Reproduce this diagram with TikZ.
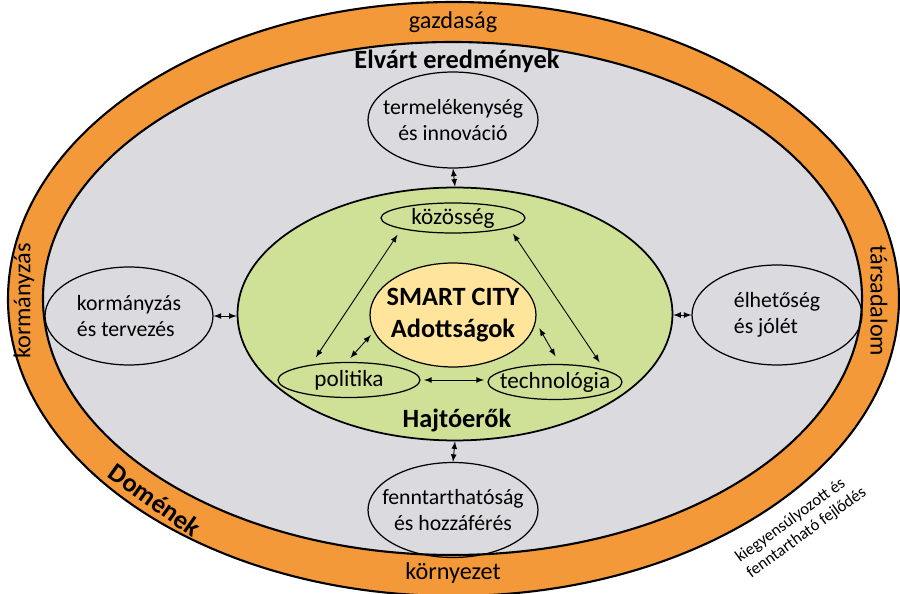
\documentclass[tikz,border=0pt]{standalone}
\usepackage{fontspec}
\setmainfont{Carlito}
\usetikzlibrary{shapes.geometric}
\definecolor{domain-orange}{RGB}{243,153,57}
\definecolor{result-gray}{RGB}{219,219,223}
\definecolor{driver-green}{RGB}{207,224,151}
\definecolor{core-yellow}{RGB}{255,228,155}
\tikzstyle{ring}=[draw=black,line width=1.2pt]
\tikzstyle{outcome}=[ellipse,draw,line width=0.7pt,inner xsep=-8pt,inner ysep=0pt,font=\fontsize{12.4}{15}\selectfont]
\tikzstyle{driver}=[ellipse,draw,line width=0.7pt,inner xsep=-5pt,inner ysep=0pt,font=\fontsize{13.2}{15}\selectfont]
\tikzstyle{domainlabel}=[font=\fontsize{13.8}{15}\selectfont]
\tikzstyle{heading}=[font=\bfseries\fontsize{15}{18}\selectfont]
\tikzstyle{link}=[latex-latex,line width=0.5pt]

\begin{document}
\begin{tikzpicture}[x=0.02cm,y=-0.02cm]
\useasboundingbox (0,0) rectangle (900,594);
% rings
\draw[ring,fill=domain-orange] (453.5,299) ellipse [x radius=445.5, y radius=297];
\draw[ring,fill=result-gray] (452.5,298.5) ellipse [x radius=409.5, y radius=256.5];
% driver ellipse
\node[ellipse,draw,line width=1pt,fill=driver-green,minimum width=8.7cm,minimum height=5.06cm] (hajto) at (455,314) {};
% domain labels
\node[domainlabel] (gazd) at (453,22) {gazdaság};
\node[domainlabel] (korny) at (453,573) {környezet};
\node[domainlabel,rotate=90] (korm) at (24,301) {kormányzás};
\node[domainlabel,rotate=-90] (tars) at (879,301) {társadalom};
\node[heading,rotate=-35.5] (domen) at (155,500) {Domének};
\node[align=left,rotate=36,inner sep=0pt,font=\fontsize{9.5}{11}\selectfont] (fejl) at (801,525) {kiegyensúlyozott és\\fenntartható fejlődés};
% outcomes
\node[heading] (elvart) at (457,61) {Elvárt eredmények};
\node[outcome,align=center,minimum width=3.4cm,minimum height=1.92cm] (prod) at (453,120) {termelékenység\\és innováció};
\node[outcome,align=left,minimum width=3.36cm,minimum height=1.96cm] (gov) at (129,316) {kormányzás\\és tervezés};
\node[outcome,align=left,minimum width=3.4cm,minimum height=2cm] (live) at (777,315) {élhetőség\\és jólét};
\node[outcome,align=center,minimum width=3.4cm,minimum height=1.9cm] (sust) at (453,510) {fenntarthatóság\\és hozzáférés};
% drivers
\node[heading] (hajtoerok) at (457,420) {Hajtóerők};
\node[ellipse,draw,line width=0.7pt,fill=core-yellow,align=center,inner xsep=-5pt,inner ysep=0pt,minimum width=3.32cm,minimum height=2.08cm,font=\bfseries\fontsize{15}{18.5}\selectfont] (core) at (453,315) {SMART CITY\\Adottságok};
\node[driver,minimum width=2.88cm,minimum height=0.6cm] (koz) at (453,218) {közösség};
\node[driver,minimum width=2.84cm,minimum height=0.7cm] (pol) at (349,380) {politika};
\node[driver,minimum width=2.68cm,minimum height=0.7cm] (tech) at (555,382) {technológia};
% outer links
\draw[link] (prod.south) -- (hajto.north);
\draw[link] (hajto.south) -- (sust.north);
\draw[link] (gov.east) -- (gov.east -| hajto.west);
\draw[link] (live.west) -- (live.west -| hajto.east);
% inner links
\draw[link,shorten <=4pt,shorten >=5pt] (koz.192) -- (pol.158);
\draw[link,shorten <=4pt,shorten >=5pt] (koz.-10) -- (tech.14);
\draw[link,shorten <=3pt,shorten >=2.5pt] (pol.97) -- (core.192);
\draw[link,shorten <=4pt,shorten >=5pt] (core.-5) -- (tech.75);
\draw[link,shorten <=2pt,shorten >=2pt] (pol.east) -- (pol.east -| tech.west);
\end{tikzpicture}
\end{document}
